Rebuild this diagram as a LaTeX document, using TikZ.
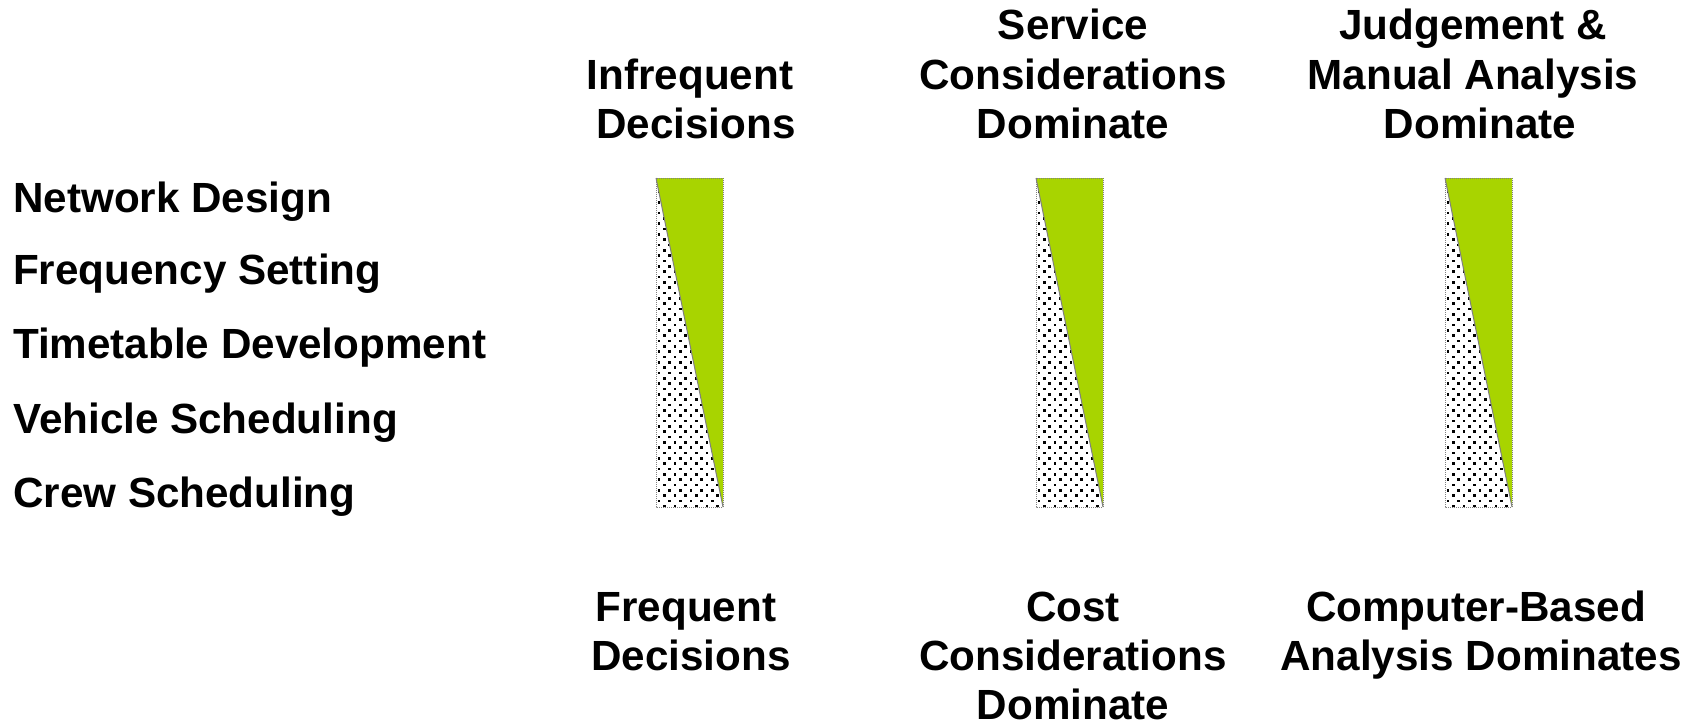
\documentclass[tikz,border=0pt]{standalone}
\usepackage{fontspec}
\setmainfont{Liberation Sans}
\definecolor{barGreen}{RGB}{168,212,0}
\begin{document}
\begin{tikzpicture}[x=1pt,y=-1pt,
  lbl/.style={font=\fontsize{42.2}{49}\selectfont\bfseries, inner sep=0pt, anchor=base},
  rowlbl/.style={lbl, anchor=base west},
  barborder/.style={draw=gray, densely dotted, line width=1pt},
  diag/.style={draw=gray, line width=1pt}]
\useasboundingbox (0,0) rectangle (1697,725);

% bars
\foreach \xl in {656,1036,1445}{
  \pgfmathsetmacro\xr{\xl+67}
  \fill[barGreen] (\xl,178) -- (\xr,178) -- (\xr,507) -- cycle;
  \begin{scope}
    \clip (\xl,178) -- (\xr,507) -- (\xl,507) -- cycle;
    \foreach \r in {0,...,62}{
      \pgfmathsetmacro\yy{181+\r*5.333}
      \pgfmathsetmacro\off{mod(\r,2)*5.333}
      \foreach \c in {0,...,6}{
        \fill (\xl+3+\off+\c*10.667-1.35, \yy-1.35) rectangle ++(2.7,2.7);
      }
    }
  \end{scope}
  \draw[barborder] (\xl,178) rectangle (\xr,507);
  \draw[diag] (\xl,178) -- (\xr,507);
}

% row labels
\node[rowlbl] (r1) at (13,212) {Network Design};
\node[rowlbl] (r2) at (13,284) {Frequency Setting};
\node[rowlbl] (r3) at (13,358) {Timetable Development};
\node[rowlbl] (r4) at (13,433) {Vehicle Scheduling};
\node[rowlbl] (r5) at (13,507) {Crew Scheduling};

% top headers
\node[lbl] (t1a) at (690,89) {Infrequent};
\node[lbl] (t1b) at (696,138) {Decisions};
\node[lbl] (t2a) at (1073,40) {Service};
\node[lbl] (t2b) at (1073,89) {Considerations};
\node[lbl] (t2c) at (1073,138) {Dominate};
\node[lbl] (t3a) at (1473,40) {Judgement \&};
\node[lbl] (t3b) at (1473,89) {Manual Analysis};
\node[lbl] (t3c) at (1480,138) {Dominate};

% bottom labels
\node[lbl] (b1a) at (686,621) {Frequent};
\node[lbl] (b1b) at (691,670) {Decisions};
\node[lbl] (b2a) at (1073,621) {Cost};
\node[lbl] (b2b) at (1073,670) {Considerations};
\node[lbl] (b2c) at (1073,719) {Dominate};
\node[lbl] (b3a) at (1476,621) {Computer-Based};
\node[lbl] (b3b) at (1481,670) {Analysis Dominates};
\end{tikzpicture}
\end{document}
